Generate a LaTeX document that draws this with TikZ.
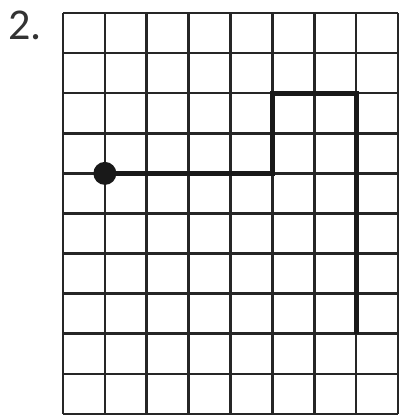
\documentclass[tikz,border=0pt]{standalone}
\usepackage{fontspec}
\setmainfont{Carlito}
\begin{document}
\begin{tikzpicture}[x=1pt,y=1pt,
  gridline/.style={line width=2.6pt,black!85},
  pathline/.style={line width=5pt,black!90,line join=miter},
  dotstyle/.style={circle,fill=black!90,minimum size=23pt,inner sep=0pt}]
\useasboundingbox (0,0) rectangle (400,416);
% grid: x from 63 to 398, 8 columns; y from 403 (top) to 2 (bottom), 10 rows
\foreach \i in {0,...,8} {
  \draw[gridline] ({63+\i*41.875},2) -- ({63+\i*41.875},403);
}
\foreach \j in {0,...,10} {
  \draw[gridline] (63,{403-\j*40.1}) -- (398,{403-\j*40.1});
}
\node[anchor=base west,font=\fontsize{44}{44}\selectfont,inner sep=0pt,text=black!80] (label) at (8,376) {2.};
\coordinate (p1) at ({63+1*41.875},{403-4*40.1});
\coordinate (p2) at ({63+5*41.875},{403-4*40.1});
\coordinate (p3) at ({63+5*41.875},{403-2*40.1});
\coordinate (p4) at ({63+7*41.875},{403-2*40.1});
\coordinate (p5) at ({63+7*41.875},{403-8*40.1});
\draw[pathline] (p1) -- (p2) -- (p3) -- (p4) -- (p5);
\node[dotstyle] (start) at (p1) {};
\end{tikzpicture}
\end{document}
